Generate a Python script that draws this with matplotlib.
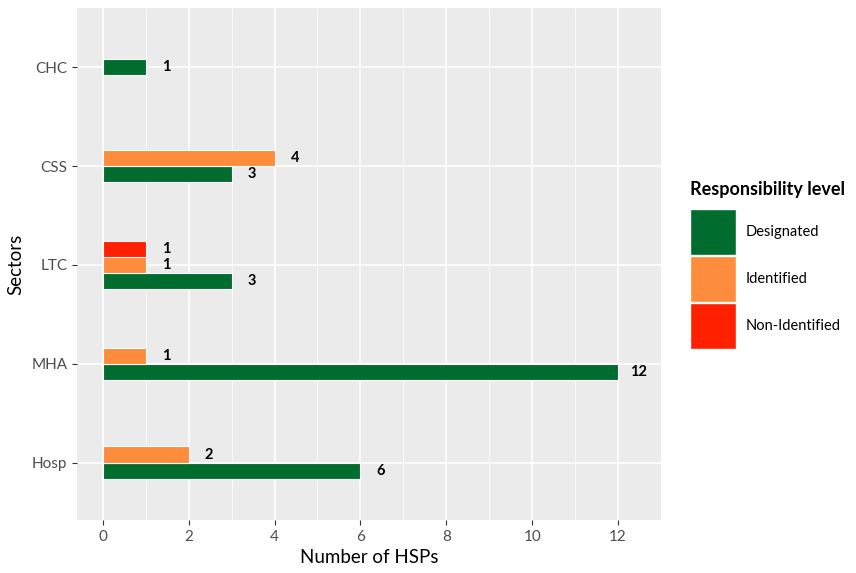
import numpy as np
import matplotlib.pyplot as plt
from matplotlib.patches import Rectangle

plt.rcParams['font.family'] = ['Lato', 'DejaVu Sans']

sectors = ['Hosp', 'MHA', 'LTC', 'CSS', 'CHC']
levels = ['Designated', 'Identified', 'Non-Identified']
designated = [6, 12, 3, 3, 1]
identified = [2, 1, 1, 4, 0]
non_identified = [0, 0, 1, 0, 0]
colors = ['#006d2f', '#fd8d3c', '#ff2000']

series = [designated, identified, non_identified]

W, H = 856, 573
fig = plt.figure(figsize=(W / 100, H / 100), dpi=100)
ax = fig.add_axes([77 / W, 53 / H, 584 / W, 512 / H])
ax.set_facecolor('#ebebeb')

bar_h = 0.165
for i, name in enumerate(sectors):
    present = [k for k in range(3) if series[k][i] > 0]
    n = len(present)
    for j, k in enumerate(present):
        y = (i + 1) + (j - (n - 1) / 2) * bar_h
        v = series[k][i]
        ax.barh(y, v, height=bar_h, color=colors[k], edgecolor='white', linewidth=0.8, zorder=3)
        ax.text(v + 0.47, y, str(v), ha='center', va='center', fontsize=10.5,
                fontweight='bold', color='black', zorder=4)

ax.set_xlim(-0.6, 13.0)
ax.set_ylim(0.42, 5.6)
ax.set_xticks(np.arange(0, 13, 2))
ax.set_xticks(np.arange(1, 13, 2), minor=True)
ax.set_yticks(range(1, 6))
ax.set_yticklabels(sectors)
ax.grid(which='major', color='white', linewidth=1.1, zorder=0)
ax.grid(which='minor', axis='x', color='white', linewidth=0.55, zorder=0)
ax.set_axisbelow(True)
for s in ax.spines.values():
    s.set_visible(False)
ax.tick_params(which='major', length=3.5, color='#333333', labelsize=11, labelcolor='#4d4d4d', width=0.8)
ax.tick_params(which='minor', length=0)
ax.set_xlabel('Number of HSPs', fontsize=13.5, labelpad=4)
ax.set_ylabel('Sectors', fontsize=13.5, labelpad=5)

# legend drawn by hand in pixel coordinates
fig.text(690 / W, 1 - 190 / H, 'Responsibility level', fontsize=13, fontweight='bold',
         ha='left', va='center')
for k, lab in enumerate(levels):
    top = 209 + k * 47
    fig.patches.append(Rectangle((690 / W, 1 - (top + 46) / H), 46 / W, 46 / H,
                                 transform=fig.transFigure, facecolor=colors[k],
                                 edgecolor='white', linewidth=1))
    fig.text(746 / W, 1 - (top + 23) / H, lab, fontsize=10.5, ha='left', va='center')

fig.savefig('out.png', dpi=100)
